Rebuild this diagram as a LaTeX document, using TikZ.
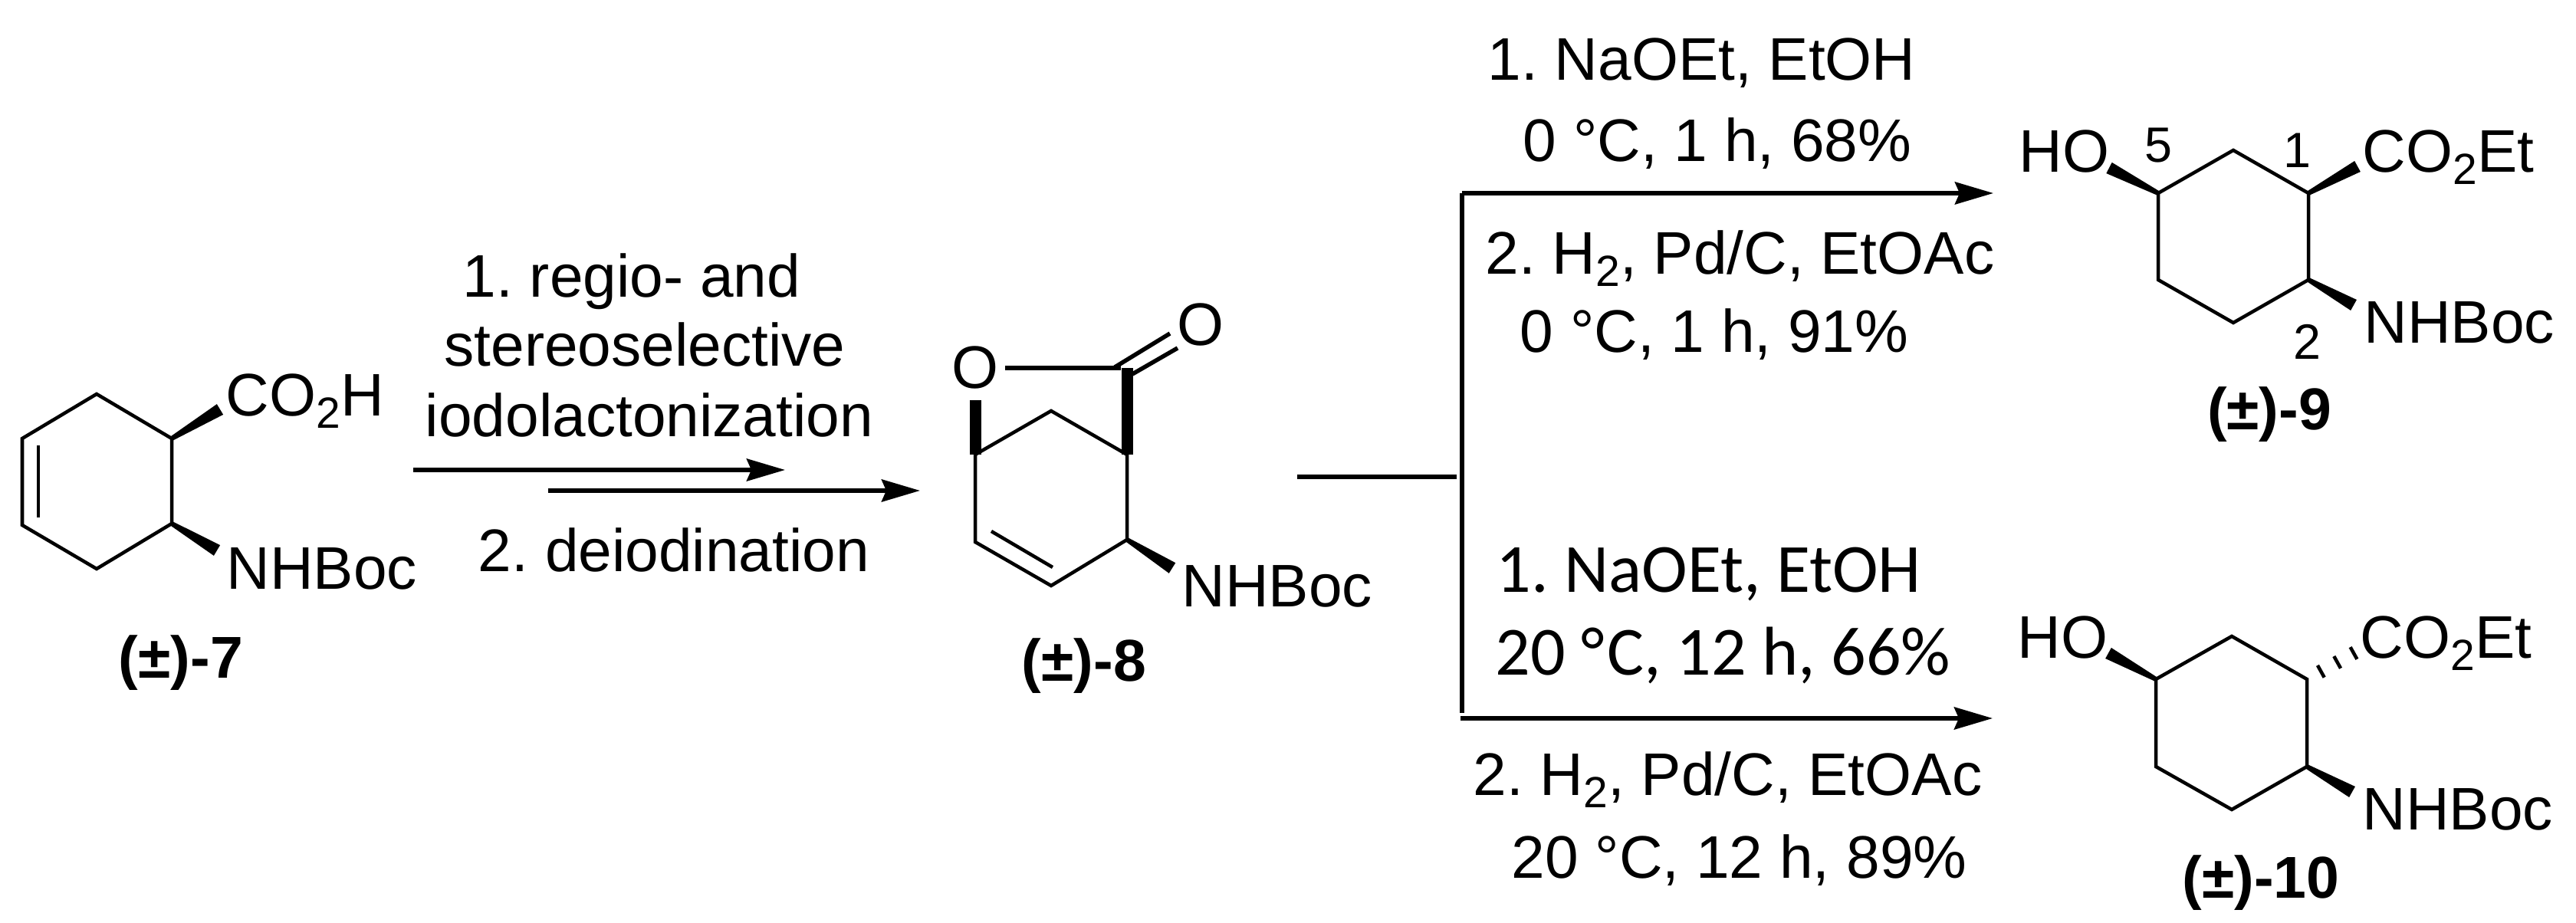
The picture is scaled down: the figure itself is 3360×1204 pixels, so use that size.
\documentclass[tikz,border=0pt]{standalone}
\usepackage{fontspec}
\setmainfont{Liberation Sans}
\newfontfamily\carlito{Carlito}
\usetikzlibrary{arrows.meta,calc}
\frenchspacing
\newcommand{\subtwo}{\raisebox{-.2em}{\fontsize{16.2}{16}\selectfont 2}}
\newcommand{\wedgebond}[2]{\fill ($(#2)!0.08cm!90:(#1)$) -- ($(#1)!0.03cm!-90:(#2)$) -- ($(#1)!0.03cm!90:(#2)$) -- ($(#2)!0.08cm!-90:(#1)$) -- cycle;}
\begin{document}
\begin{tikzpicture}
[x=0.01cm,y=-0.01cm,
bond/.style={line width=0.045cm,line join=miter},
rxnline/.style={line width=0.055cm},
rxnarrow/.style={rxnline,-{Stealth[length=0.5cm,width=0.29cm,inset=0.06cm]}},
boldbond/.style={line width=0.15cm},
lbl/.style={inner sep=0pt,anchor=base west,font=\fontsize{22.3}{26}\selectfont},
calibri/.style={lbl,font=\carlito\fontsize{25.6}{30}\selectfont},
numlbl/.style={inner sep=0pt,anchor=base,font=\fontsize{18.4}{22}\selectfont},
cmpd/.style={inner sep=0pt,anchor=base,font=\bfseries\fontsize{21.9}{26}\selectfont}]
\useasboundingbox (0,0) rectangle (3360,1204);
% compound 7
\coordinate (a1) at (224,572); \coordinate (a2) at (224,683); \coordinate (a3) at (126,742);
\coordinate (a4) at (29,685); \coordinate (a5) at (29,572); \coordinate (a6) at (126,514);
\coordinate (a1w) at (287,534); \coordinate (a2w) at (283,718);
\coordinate (a4i) at (50,675); \coordinate (a5i) at (50,581);
\draw[bond] (a1) -- (a2) -- (a3) -- (a4) -- (a5) -- (a6) -- cycle;
\draw[bond] (a4i) -- (a5i);
\wedgebond{a1}{a1w} \wedgebond{a2}{a2w}
\node[lbl](co2h) at (294,543) {CO\subtwo H};
\node[lbl](nhboc7) at (295,769) {NHBoc};
\node[cmpd](c7) at (236,885) {(±)-7};
% first reaction
\node[lbl,anchor=base](reg1) at (824,388) {1. regio- and};
\node[lbl,anchor=base](reg2) at (841,478) {stereoselective};
\node[lbl,anchor=base](reg3) at (847,570) {iodolactonization};
\node[lbl,anchor=base](reg4) at (879,746) {2. deiodination};
\coordinate (r1s) at (539,613); \coordinate (r1e) at (1024,613);
\coordinate (r2s) at (715,640); \coordinate (r2e) at (1200,640);
\draw[rxnarrow] (r1s) -- (r1e);
\draw[rxnarrow] (r2s) -- (r2e);
% compound 8
\coordinate (b1) at (1470,593); \coordinate (b2) at (1470,704); \coordinate (b3) at (1371,764);
\coordinate (b4) at (1272,707); \coordinate (b5) at (1272,593); \coordinate (b6) at (1371,536);
\coordinate (b7) at (1470,480); \coordinate (b2w) at (1529,741);
\coordinate (b3i) at (1373,740); \coordinate (b4i) at (1293,693);
\coordinate (bo) at (1272,522);
\draw[bond] (b1) -- (b2) -- (b3) -- (b4) -- (b5) -- (b6) -- cycle;
\draw[bond] (b3i) -- (b4i);
\draw[boldbond] (b1) -- (b7);
\draw[boldbond] (b5) -- (bo);
\wedgebond{b2}{b2w}
\node[lbl,anchor=center](ring) at (1272,480) {O};
\node[lbl,anchor=center](carb) at (1566,424) {O};
\coordinate (b7a) at (1454,479); \coordinate (b7b) at (1477,488);
\coordinate (cba) at (1526,435); \coordinate (cbb) at (1536,454);
\coordinate (b7c) at (1462,480); \coordinate (ringe) at (1311,480);
\draw[rxnline] (ringe) -- (b7c);
\draw[rxnline] (b7a) -- (cba);
\draw[rxnline] (b7b) -- (cbb);
\node[lbl](nhboc8) at (1541,792) {NHBoc};
\node[cmpd](c8) at (1414,889) {(±)-8};
% branch
\coordinate (st) at (1692,622); \coordinate (ste) at (1900,622);
\coordinate (up) at (1907,252); \coordinate (upe) at (2600,252);
\coordinate (vm) at (1907,930);
\coordinate (dn) at (1905,937); \coordinate (dne) at (2599,937);
\draw[rxnline] (st) -- (ste);
\draw[rxnline] (vm) -- (up);
\draw[rxnarrow] (up) -- (upe);
\draw[rxnarrow] (dn) -- (dne);
% upper conditions
\node[lbl](u1) at (1940,105) {1. NaOEt, EtOH};
\node[lbl](u2) at (1986,211) {0 °C, 1 h, 68\%};
\node[lbl](u3) at (1937,358) {2. H\subtwo, Pd/C, EtOAc};
\node[lbl](u4) at (1982,460) {0 °C, 1 h, 91\%};
% lower conditions
\node[calibri](l1) at (1951,773) {1. NaOEt, EtOH};
\node[calibri](l2) at (1950,881) {20 °\kern.04em C, 12 h, 66\%};
\node[lbl](l3) at (1921,1038) {2. H\subtwo, Pd/C, EtOAc};
\node[lbl](l4) at (1971,1146) {20 °C, 12 h, 89\%};
% compound 9
\coordinate (c1) at (3011,252); \coordinate (c2) at (3011,365); \coordinate (c3) at (2913,421);
\coordinate (c4) at (2815,365); \coordinate (c5) at (2815,252); \coordinate (c6) at (2913,196);
\coordinate (c1w) at (3075,217); \coordinate (c2w) at (3070,398); \coordinate (c5w) at (2751,219);
\draw[bond] (c1) -- (c2) -- (c3) -- (c4) -- (c5) -- (c6) -- cycle;
\wedgebond{c1}{c1w} \wedgebond{c2}{c2w} \wedgebond{c5}{c5w}
\node[lbl](ho9) at (2633,225) {HO};
\node[lbl](co2et9) at (3081,225) {CO\subtwo Et};
\node[lbl](nhboc9) at (3083,448) {NHBoc};
\node[numlbl](n5) at (2815,212) {5};
\node[numlbl](n1) at (2996,219) {1};
\node[numlbl](n2) at (3009,469) {2};
\node[cmpd](c9) at (2960,561) {(±)-9};
% compound 10
\coordinate (d1) at (3009,886); \coordinate (d2) at (3009,1000); \coordinate (d3) at (2911,1056);
\coordinate (d4) at (2812,1000); \coordinate (d5) at (2812,886); \coordinate (d6) at (2911,830);
\coordinate (d1h) at (3070,852); \coordinate (d2w) at (3068,1033); \coordinate (d5w) at (2750,852);
\draw[bond] (d1) -- (d2) -- (d3) -- (d4) -- (d5) -- (d6) -- cycle;
\wedgebond{d2}{d2w} \wedgebond{d5}{d5w}
\foreach \t in {0.3,0.65,1}{
\coordinate (p) at ($(d1)!\t!(d1h)$);
\draw[bond] ($(p)!0.09cm!90:(d1)$) -- ($(p)!0.09cm!-90:(d1)$);}
\node[lbl](ho10) at (2631,859) {HO};
\node[lbl](co2et10) at (3078,859) {CO\subtwo Et};
\node[lbl](nhboc10) at (3081,1083) {NHBoc};
\node[cmpd](c10) at (2949,1172) {(±)-10};
\end{tikzpicture}
\end{document}
